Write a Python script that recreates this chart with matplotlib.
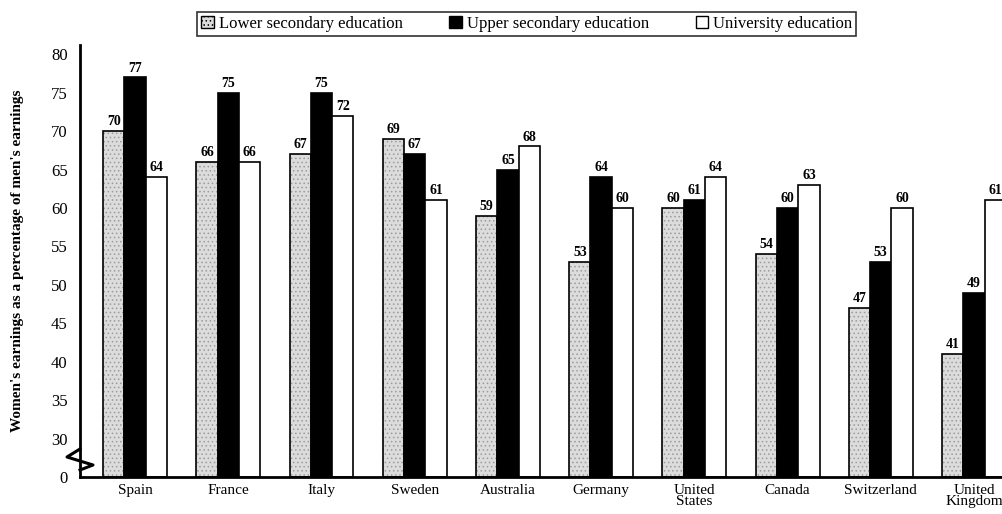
import numpy as np
import matplotlib
matplotlib.use("Agg")
import matplotlib.pyplot as plt
from matplotlib.patches import Patch
from matplotlib.lines import Line2D

# data
countries = ["Spain", "France", "Italy", "Sweden", "Australia", "Germany",
             "United\nStates", "Canada", "Switzerland", "United\nKingdom"]
lower_sec = [70, 66, 67, 69, 59, 53, 60, 54, 47, 41]
upper_sec = [77, 75, 75, 67, 65, 64, 61, 60, 53, 49]
university = [64, 66, 72, 61, 68, 60, 64, 63, 60, 61]
series_names = ["Lower secondary education", "Upper secondary education", "University education"]
yticks = [25, 30, 35, 40, 45, 50, 55, 60, 65, 70, 75, 80]
ytick_labels = ["0", "30", "35", "40", "45", "50", "55", "60", "65", "70", "75", "80"]

plt.rcParams["font.family"] = ["Liberation Serif", "DejaVu Serif"]
plt.rcParams["hatch.linewidth"] = 0.6

fig = plt.figure(figsize=(10.02, 5.14), dpi=100)
W, H = 1002, 514
ax = fig.add_axes([80 / W, 37 / H, (W - 80) / W, (477 - 45) / H])

x = np.arange(len(countries))
w = 0.2285
base = 25

# lower secondary: stippled grey
ax.bar(x - w, np.array(lower_sec) - base, w, bottom=base, color="#dcdcdc",
       hatch="....", edgecolor="#9c9c9c", linewidth=0)
ax.bar(x - w, np.array(lower_sec) - base, w, bottom=base, fill=False,
       edgecolor="black", linewidth=1.2)
ax.bar(x, np.array(upper_sec) - base, w, bottom=base, color="black",
       edgecolor="black", linewidth=1.2)
ax.bar(x + w, np.array(university) - base, w, bottom=base, color="white",
       edgecolor="black", linewidth=1.2)

for off, vals in [(-w, lower_sec), (0, upper_sec), (w, university)]:
    for xi, v in zip(x, vals):
        ax.annotate(str(v), (xi + off, v), xytext=(0, 2), textcoords="offset points",
                    ha="center", va="bottom", fontsize=10, fontweight="bold")

ax.set_xlim(-0.59, 9.30)
ax.set_ylim(base, 81.2)
ax.set_yticks(yticks)
ax.set_yticklabels(ytick_labels, fontsize=12)
ax.set_xticks(x)
ax.set_xticklabels(countries, fontsize=11, linespacing=0.85)
ax.tick_params(axis="both", length=0, pad=9)
ax.tick_params(axis="x", pad=5)
for s in ["top", "right"]:
    ax.spines[s].set_visible(False)
ax.spines["left"].set_linewidth(2)
ax.spines["bottom"].set_linewidth(2)

ax.set_ylabel("Women's earnings as a percentage of men's earnings",
              fontsize=11, fontweight="bold")
ax.yaxis.set_label_coords(-56 / 922, 0.5)

# axis break mark
bx = np.array([80, 67, 93, 80]) / W
by = 1 - np.array([449, 457, 465, 470]) / H
fig.add_artist(Line2D(bx, by, color="black", linewidth=2.2, transform=fig.transFigure))

handles = [Patch(facecolor="#dcdcdc", edgecolor="black", hatch="...."),
           Patch(facecolor="black", edgecolor="black"),
           Patch(facecolor="white", edgecolor="black")]
leg = fig.legend(handles, series_names, loc="upper left", ncol=3,
                 bbox_to_anchor=(197 / W, 1 - 12 / H), fontsize=12,
                 frameon=True, fancybox=False, handlelength=0.75, handleheight=0.75,
                 handletextpad=0.3, columnspacing=2.8, borderpad=0.25,
                 borderaxespad=0)
leg.get_frame().set_edgecolor("black")
leg.get_frame().set_linewidth(1.2)

fig.savefig("out.png", dpi=100)
